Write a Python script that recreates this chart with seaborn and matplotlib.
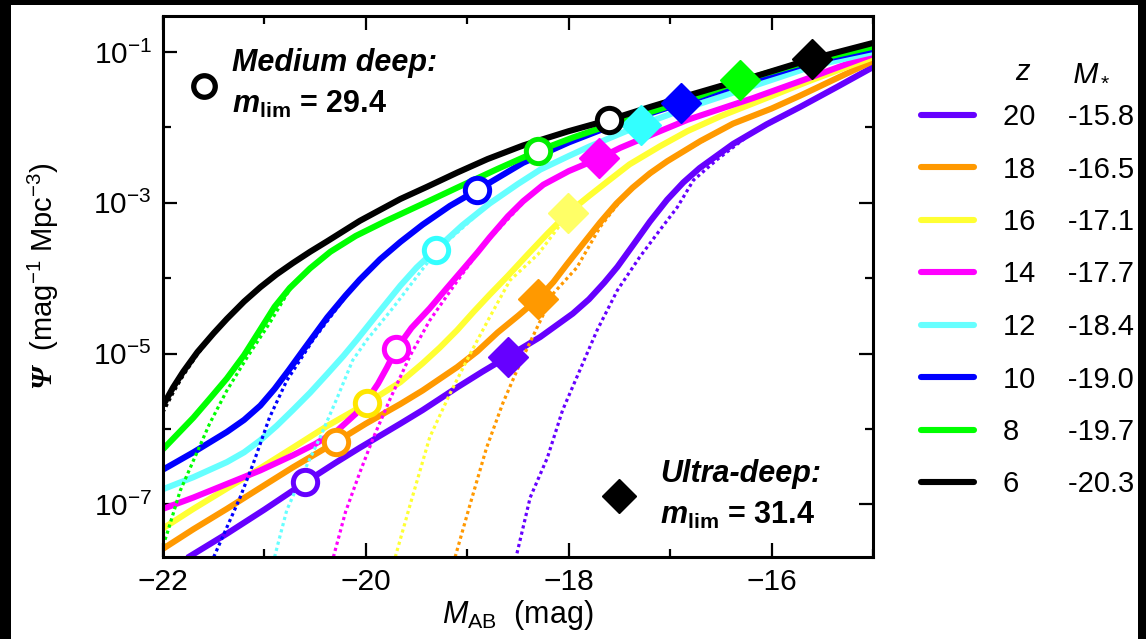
import numpy as np
import matplotlib
matplotlib.use("Agg")
import matplotlib.pyplot as plt
from matplotlib.lines import Line2D
from matplotlib.ticker import FixedLocator, NullFormatter
import seaborn as sns

sns.set_theme(style="ticks")
plt.rcParams['font.family'] = ['Liberation Sans', 'DejaVu Sans']
plt.rcParams['mathtext.fontset'] = 'custom'
plt.rcParams['mathtext.rm'] = 'Liberation Sans'
plt.rcParams['mathtext.it'] = 'Liberation Sans:italic'
plt.rcParams['mathtext.bf'] = 'Liberation Sans:bold'
plt.rcParams['mathtext.bfit'] = 'Liberation Sans:bold:italic'
plt.rcParams['mathtext.sf'] = 'Liberation Serif:bold:italic'
for key in ['text.color', 'axes.labelcolor', 'xtick.color', 'ytick.color']:
    plt.rcParams[key] = 'black'

FS = 21

# redshifts and characteristic magnitudes (legend)
redshifts = [20, 18, 16, 14, 12, 10, 8, 6]
m_star = ['-15.8', '-16.5', '-17.1', '-17.7', '-18.4', '-19.0', '-19.7', '-20.3']
line_colors = ['#6600ff', '#ff9900', '#ffff33', '#ff00ff', '#66ffff', '#0000ff', '#00ff00', '#000000']
circle_colors = ['#6600ff', '#ff9900', '#ffe600', '#ff00ff', '#33ffff', '#0000ff', '#00ee00', '#000000']
diamond_colors = ['#6600ff', '#ff9900', '#ffff66', '#ff00ff', '#33ffff', '#0000ff', '#00ff00', '#000000']

# solid curves: M_AB and log10(Psi)
M_solid = {
    20: [-21.76, -21.37, -21.00, -20.60, -20.30, -20.06, -19.66, -19.44, -19.10, -18.85, -18.60, -18.28,
         -17.96, -17.80, -17.65, -17.52, -17.37, -17.20, -17.03, -16.87, -16.71, -16.38, -16.05, -15.72,
         -15.35, -15.00],
    18: [-22.00, -21.70, -21.37, -21.04, -20.72, -20.29, -20.00, -19.66, -19.44, -19.10, -18.90, -18.70,
         -18.50, -18.30, -18.15, -18.02, -17.85, -17.69, -17.53, -17.37, -17.20, -17.03, -16.70, -16.38,
         -16.00, -15.72, -15.00],
    16: [-22.00, -21.70, -21.37, -21.04, -20.72, -20.38, -19.99, -19.66, -19.44, -19.27, -19.10, -18.94,
         -18.78, -18.60, -18.40, -18.21, -18.01, -17.80, -17.62, -17.40, -17.10, -16.83, -16.50, -16.18,
         -15.60, -15.00],
    14: [-22.00, -21.70, -21.37, -21.04, -20.72, -20.50, -20.28, -20.10, -19.99, -19.88, -19.79, -19.70,
         -19.55, -19.37, -19.20, -19.04, -18.90, -18.78, -18.60, -18.45, -18.25, -18.00, -17.70, -17.49,
         -17.10, -16.83, -16.18, -15.60, -15.00],
    12: [-22.00, -21.70, -21.37, -21.20, -21.04, -20.88, -20.72, -20.55, -20.38, -20.22, -20.09, -19.90,
         -19.66, -19.50, -19.31, -19.05, -18.78, -18.50, -18.28, -18.00, -17.79, -17.29, -16.83, -16.20,
         -15.60, -15.00],
    10: [-22.00, -21.70, -21.37, -21.20, -21.04, -20.90, -20.76, -20.62, -20.38, -20.20, -20.06, -19.86,
         -19.66, -19.44, -19.17, -18.90, -18.45, -18.00, -17.60, -16.89, -16.20, -15.60, -15.00],
    8: [-22.00, -21.85, -21.70, -21.54, -21.37, -21.20, -21.04, -20.90, -20.75, -20.55, -20.35, -20.10,
        -19.80, -19.40, -19.10, -18.70, -18.30, -17.95, -17.60, -16.83, -16.31, -15.60, -15.00],
    6: [-22.00, -21.90, -21.80, -21.66, -21.50, -21.37, -21.20, -21.04, -20.88, -20.72, -20.55, -20.38,
        -20.06, -19.66, -19.40, -19.10, -18.80, -18.45, -18.00, -17.60, -17.20, -16.83, -16.50, -16.18,
        -15.60, -15.00],
}
logpsi_solid = {
    20: [-7.71, -7.39, -7.07, -6.71, -6.45, -6.25, -5.93, -5.75, -5.45, -5.24, -5.04, -4.78,
         -4.47, -4.28, -4.06, -3.85, -3.57, -3.25, -2.96, -2.73, -2.54, -2.22, -1.96, -1.73,
         -1.46, -1.20],
    18: [-7.59, -7.33, -7.06, -6.78, -6.51, -6.17, -5.93, -5.67, -5.49, -5.18, -4.97, -4.72,
         -4.50, -4.27, -4.05, -3.82, -3.53, -3.26, -3.01, -2.80, -2.61, -2.45, -2.18, -1.95,
         -1.75, -1.58, -1.12],
    16: [-7.32, -7.06, -6.79, -6.52, -6.25, -5.96, -5.66, -5.38, -5.13, -4.92, -4.69, -4.45,
         -4.22, -3.97, -3.68, -3.41, -3.14, -2.91, -2.72, -2.49, -2.25, -2.05, -1.85, -1.68,
         -1.37, -1.07],
    14: [-7.06, -6.91, -6.73, -6.55, -6.35, -6.20, -6.02, -5.80, -5.62, -5.40, -5.18, -4.94,
         -4.66, -4.40, -4.13, -3.88, -3.66, -3.46, -3.18, -2.98, -2.76, -2.58, -2.41, -2.27,
         -2.05, -1.90, -1.61, -1.33, -1.03],
    12: [-6.80, -6.64, -6.44, -6.31, -6.15, -5.96, -5.75, -5.52, -5.27, -5.03, -4.82, -4.50,
         -4.10, -3.86, -3.62, -3.30, -3.01, -2.75, -2.56, -2.38, -2.25, -1.97, -1.74, -1.46,
         -1.19, -1.00],
    10: [-6.54, -6.31, -6.04, -5.88, -5.69, -5.47, -5.22, -4.96, -4.52, -4.23, -4.02, -3.75,
         -3.52, -3.29, -3.04, -2.83, -2.47, -2.20, -1.99, -1.68, -1.38, -1.13, -0.96],
    8: [-6.27, -6.06, -5.85, -5.60, -5.33, -5.02, -4.68, -4.38, -4.13, -3.87, -3.65, -3.44,
        -3.24, -2.99, -2.80, -2.55, -2.31, -2.13, -1.97, -1.64, -1.38, -1.11, -0.93],
    6: [-5.69, -5.45, -5.24, -4.98, -4.73, -4.54, -4.31, -4.12, -3.95, -3.80, -3.65, -3.51,
        -3.24, -2.95, -2.79, -2.60, -2.42, -2.24, -2.05, -1.90, -1.73, -1.58, -1.45, -1.33,
        -1.09, -0.88],
}

# dotted curves: M_AB and log10(Psi)
M_dotted = {
    20: [-18.51, -18.38, -18.21, -18.06, -17.89, -17.72, -17.52, -17.30, -17.10, -16.93, -16.77, -16.54,
         -16.20, -15.72, -15.00],
    18: [-19.12, -18.97, -18.81, -18.65, -18.48, -18.31, -18.15, -17.92, -17.69, -17.43, -17.03, -16.38],
    16: [-19.71, -19.56, -19.37, -19.17, -18.97, -18.78, -18.58, -18.30, -18.01, -17.62],
    14: [-20.32, -20.20, -20.06, -19.93, -19.76, -19.56, -19.37, -19.10, -18.85, -18.45],
    12: [-20.90, -20.78, -20.62, -20.45, -20.28, -20.13, -19.99, -19.73, -19.31, -18.78],
    10: [-21.50, -21.24, -21.11, -20.95, -20.78, -20.52, -20.28, -20.06, -19.66],
    8: [-22.00, -21.96, -21.83, -21.70, -21.54, -21.37, -21.17, -20.95, -20.75, -20.55],
    6: [-22.00, -21.90, -21.80, -21.66, -21.50],
}
logpsi_dotted = {
    20: [-7.65, -6.91, -6.38, -5.75, -5.22, -4.69, -4.16, -3.72, -3.36, -3.06, -2.70, -2.43,
         -2.08, -1.74, -1.21],
    18: [-7.70, -6.99, -6.25, -5.66, -5.13, -4.65, -4.20, -3.86, -3.32, -2.87, -2.45, -1.95],
    16: [-7.70, -6.99, -6.11, -5.53, -5.00, -4.52, -4.03, -3.68, -3.16, -2.71],
    14: [-7.70, -7.10, -6.58, -6.13, -5.60, -5.02, -4.56, -4.04, -3.58, -3.00],
    12: [-7.70, -7.08, -6.59, -6.11, -5.58, -5.09, -4.82, -4.39, -3.65, -3.01],
    10: [-7.70, -6.91, -6.46, -5.85, -5.36, -4.82, -4.39, -4.00, -3.51],
    8: [-7.55, -7.39, -6.82, -6.42, -5.93, -5.49, -5.05, -4.60, -4.15, -3.87],
    6: [-5.78, -5.52, -5.29, -5.01, -4.74],
}

# survey limits: medium deep (circles) and ultra-deep (diamonds)
M_circle = [-20.60, -20.29, -19.99, -19.70, -19.31, -18.90, -18.30, -17.60]
logpsi_circle = [-6.71, -6.17, -5.66, -4.94, -3.63, -2.83, -2.31, -1.90]
M_diamond = [-18.60, -18.30, -18.01, -17.70, -17.29, -16.89, -16.31, -15.60]
logpsi_diamond = [-5.04, -4.27, -3.14, -2.41, -1.97, -1.68, -1.37, -1.09]

fig = plt.figure(figsize=(11.46, 6.39), dpi=100)
fig.patch.set_facecolor('black')
fig.add_artist(plt.Rectangle((11 / 1146, 0), 1127 / 1146, 634 / 639, transform=fig.transFigure,
                             facecolor='white', edgecolor='none', zorder=-10))
ax = fig.add_axes([0.1422, 0.1283, 0.6196, 0.8466])
ax.set_facecolor('white')

for i, z in enumerate(redshifts):
    sns.lineplot(x=M_dotted[z], y=10 ** np.array(logpsi_dotted[z]), ax=ax, color=line_colors[i],
                 lw=2.3, linestyle=(0, (1, 1)), estimator=None, sort=False)
    sns.lineplot(x=M_solid[z], y=10 ** np.array(logpsi_solid[z]), ax=ax, color=line_colors[i],
                 lw=4.4, estimator=None, sort=False, solid_capstyle='butt', solid_joinstyle='round')

for i, z in enumerate(redshifts):
    ax.plot(M_circle[i], 10 ** logpsi_circle[i], 'o', ms=17.5, mfc='white', mec=circle_colors[i],
            mew=3.6, zorder=5)
    ax.plot(M_diamond[i], 10 ** logpsi_diamond[i], 'D', ms=20, mfc=diamond_colors[i],
            mec=diamond_colors[i], mew=1, zorder=5)

# annotation keys
ax.plot(-21.6, 0.035, 'o', ms=15.5, mfc='white', mec='black', mew=3.8, zorder=5)
ax.plot(-17.5, 1.3e-7, 'D', ms=17, mfc='black', mec='black', zorder=5)
ax.text(-21.32, 10 ** -1.15, 'Medium deep:', fontsize=22, fontweight='bold', style='italic',
        va='center', ha='left')
ax.text(-21.32, 10 ** -1.70, r'$\mathbfit{m}_{\mathbf{lim}}$ = 29.4', fontsize=22, fontweight='bold',
        va='center', ha='left')
ax.text(-17.10, 10 ** -6.6, 'Ultra-deep:', fontsize=22, fontweight='bold', style='italic',
        va='center', ha='left')
ax.text(-17.10, 10 ** -7.15, r'$\mathbfit{m}_{\mathbf{lim}}$ = 31.4', fontsize=22, fontweight='bold',
        va='center', ha='left')

ax.set_yscale('log')
ax.set_xlim(-22, -15)
ax.set_ylim(2e-8, 0.3)
ax.xaxis.set_major_locator(FixedLocator([-22, -20, -18, -16]))
ax.xaxis.set_minor_locator(FixedLocator([-21, -19, -17, -15]))
ax.set_xticklabels(['\u221222', '\u221220', '\u221218', '\u221216'])
ax.yaxis.set_major_locator(FixedLocator([1e-7, 1e-5, 1e-3, 1e-1]))
ax.yaxis.set_minor_locator(FixedLocator([1e-6, 1e-4, 1e-2]))
ax.set_yticklabels([r'$10^{-7}$', r'$10^{-5}$', r'$10^{-3}$', r'$10^{-1}$'])
ax.yaxis.set_minor_formatter(NullFormatter())
ax.tick_params(which='both', direction='in', top=True, right=True, width=1.6, colors='black',
               labelsize=21.5)
ax.tick_params(which='major', length=10, pad=8)
ax.tick_params(which='minor', length=6)
for sp in ax.spines.values():
    sp.set_linewidth(2.2)
    sp.set_color('black')

ax.set_xlabel(r'$M_{\rm AB}$  (mag)', fontsize=22, labelpad=1)
ax.set_ylabel(r'$\mathsf{Ψ}$  (mag$^{-1}$ Mpc$^{-3}$)', fontsize=FS)
ax.yaxis.set_label_coords(-0.143, 0.52)

# legend: z and M_* columns
handles = [Line2D([0], [0], color=c, lw=4.4) for c in line_colors]
labels = [f"{z}{' ' * (4 if z >= 10 else 6)}{m}" for z, m in zip(redshifts, m_star)]
ax.legend(handles, labels, loc='upper left', bbox_to_anchor=(921 / 1146, 1 - 103 / 639),
          bbox_transform=fig.transFigure, frameon=False, fontsize=FS, handlelength=1.8,
          handletextpad=1.0, labelspacing=0.84, borderpad=0, borderaxespad=0)
fig.text(1015 / 1146, 1 - 72 / 639, r'$z$', fontsize=FS, va='center', ha='left')
fig.text(1072 / 1146, 1 - 72 / 639, r'$M_*$', fontsize=FS + 1, va='center', ha='left')

fig.savefig('out.png', dpi=100)
